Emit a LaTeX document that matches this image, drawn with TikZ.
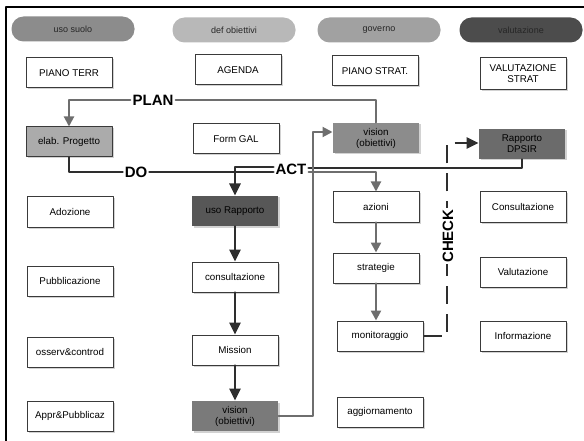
\documentclass[tikz,border=0pt]{standalone}
\usepackage{fontspec}
\setmainfont{Liberation Sans}
\usetikzlibrary{arrows.meta,shadows}
\definecolor{boxline}{HTML}{3A3A3A}
\definecolor{linkgray}{HTML}{6E6E6E}
\definecolor{linkdark}{HTML}{2E2E2E}
\begin{document}
\begin{tikzpicture}[x=1pt,y=-1pt,line cap=round,line join=round,
  pill/.style={rounded corners=12pt,minimum width=123pt,minimum height=25pt,
    inner sep=0pt,font=\fontsize{9}{10}\selectfont,text=black!85},
  card/.style={draw=boxline,line width=1pt,fill=white,minimum width=86pt,minimum height=30pt,
    inner sep=1pt,align=center,font=\fontsize{9.8}{11}\selectfont,
    drop shadow={shadow xshift=1.5pt,shadow yshift=-1.5pt,fill=black!35}},
  tag/.style={font=\bfseries\fontsize{15}{15}\selectfont,inner sep=2pt},
  grayline/.style={draw=linkgray,line width=2pt},
  darkline/.style={draw=linkdark,line width=2.6pt},
  graytip/.style={-{Triangle[length=10pt,width=10pt]}},
  darktip/.style={-{Triangle[length=12pt,width=11pt]}}]
  \useasboundingbox (0,0) rectangle (584,441);
  \draw[line width=1.4pt] (6,441) -- (6,7) -- (584,7);

  \node[pill,fill=black!45] (usosuolo) at (73,29) {uso suolo};
  \node[pill,fill=black!28] (defobj) at (234,30) {def obiettivi};
  \node[pill,fill=black!37] (governo) at (379,30) {governo};
  \node[pill,fill=black!70,text=black!85] (valut) at (521,30) {valutazione};

  \node[card] (pterr) at (69,73) {PIANO TERR};
  \node[card] (agenda) at (238,70) {AGENDA};
  \node[card] (pstrat) at (375,71) {PIANO STRAT.};
  \node[card,minimum height=32pt] (valstrat) at (523,74) {VALUTAZIONE\\STRAT};

  \node[card,fill=black!33] (elab) at (69,142) {elab. Progetto};
  \node[card] (formgal) at (236,139) {Form GAL};
  \node[card,fill=black!45,draw=none] (visionb) at (376,138) {vision\\(obiettivi)};
  \node[card,fill=black!58,draw=none] (rapporto) at (522,144) {Rapporto\\DPSIR};

  \node[card] (adozione) at (70,212) {Adozione};
  \node[card,fill=black!66,draw=none] (usorapp) at (235,211) {uso Rapporto};
  \node[card] (azioni) at (376,207) {azioni};
  \node[card] (consult) at (523,207) {Consultazione};

  \node[card] (pubbl) at (70,281) {Pubblicazione};
  \node[card] (consultaz) at (235,277) {consultazione};
  \node[card] (strategie) at (376,268) {strategie};
  \node[card] (valutaz) at (523,272) {Valutazione};

  \node[card] (osserv) at (70,352) {osserv\&controd};
  \node[card] (mission) at (235,350) {Mission};
  \node[card] (monitor) at (380,336) {monitoraggio};
  \node[card] (inform) at (523,336) {Informazione};

  \node[card] (appr) at (70,416) {Appr\&Pubblicaz};
  \node[card,fill=black!52,draw=none] (visiona) at (235,416) {vision\\(obiettivi)};
  \node[card] (aggiorn) at (380,412) {aggiornamento};

  \node[tag] (plan) at (153,100) {PLAN};
  \node[tag] (do) at (136,172) {DO};
  \node[tag] (act) at (291,169) {ACT};

  \coordinate (turn) at (313,132);
  \coordinate (chk) at (447,143);

  \draw[grayline] (visionb.north) |- (plan.east);
  \draw[grayline,graytip] (plan.west) -| (elab.north);
  \draw[darkline] (elab.south) |- (do.west);
  \draw[darkline] (do.east) -- (act.west |- do.east);
  \draw[darkline,darktip] ([yshift=2pt]act.west) -| (usorapp.north);
  \draw[darkline] ([yshift=1pt]act.east) -| (rapporto.south);
  \draw[grayline,graytip] ([yshift=-3pt]act.east) -| (azioni.north);
  \draw[grayline,graytip] (visiona.east) -| (turn) -- (visionb.west |- turn);
  \draw[darkline,darktip] (usorapp.south) -- (consultaz.north);
  \draw[darkline,darktip] (consultaz.south) -- (mission.north);
  \draw[darkline,darktip] (mission.south) -- (visiona.north);
  \draw[grayline,line width=2.4pt,graytip] (azioni.south) -- (strategie.north);
  \draw[grayline,line width=2.4pt,graytip] (strategie.south) -- (strategie.south |- monitor.north);
  \draw[darkline,dash pattern=on 18pt off 10pt,line cap=butt,darktip] (monitor.east) -| (chk) -- (chk -| rapporto.west);
  \node[tag,rotate=90,fill=white,inner sep=1pt] (check) at (448,236) {CHECK};
\end{tikzpicture}
\end{document}
